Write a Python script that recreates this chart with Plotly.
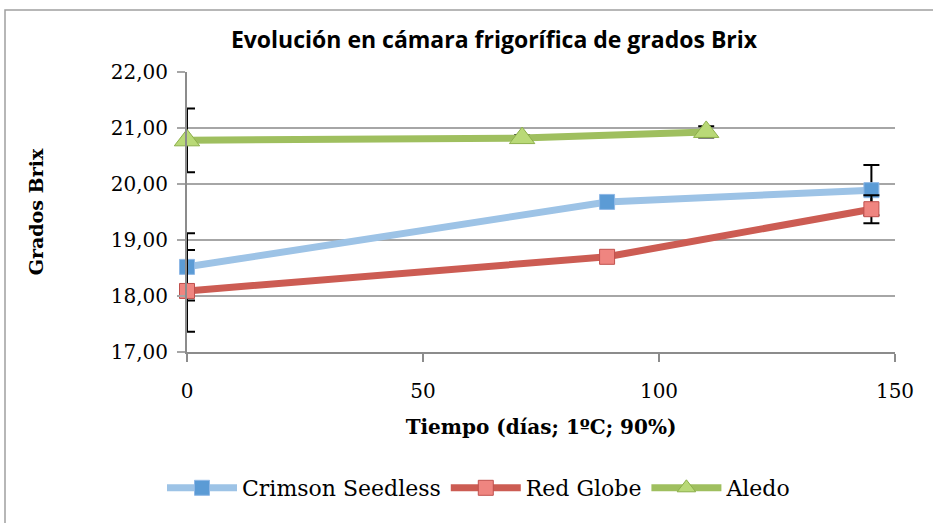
import plotly.graph_objects as go

crimson_x = [0, 89, 145]
crimson_y = [18.52, 19.68, 19.89]
crimson_err = [0.60, 0.0, 0.45]

red_x = [0, 89, 145]
red_y = [18.09, 18.70, 19.55]
red_err = [0.73, 0.0, 0.25]

aledo_x = [0, 71, 110]
aledo_y = [20.78, 20.82, 20.93]
aledo_err = [0.57, 0.05, 0.10]

title_text = "Evolución en cámara frigorífica de grados Brix"
x_title = "Tiempo (días; 1ºC; 90%)"
y_title = "Grados Brix"

serif = "DejaVu Serif"

def series(name, x, y, err, line_c, mk_c, mk_line, symbol, size):
    return go.Scatter(
        x=x, y=y, name=name, mode="lines+markers", cliponaxis=False,
        line=dict(color=line_c, width=7),
        marker=dict(symbol=symbol, size=size, color=mk_c,
                    line=dict(color=mk_line, width=1)),
        error_y=dict(type="data", array=err, visible=True,
                     color="black", thickness=2, width=8),
    )

fig = go.Figure()
fig.add_trace(series("Crimson Seedless", crimson_x, crimson_y, crimson_err,
                     "#9dc3e6", "#5b9bd5", "#8fb8e6", "square", 15))
fig.add_trace(series("Red Globe", red_x, red_y, red_err,
                     "#cc5c53", "#ef8580", "#c0504d", "square", 15))
fig.add_trace(series("Aledo", aledo_x, aledo_y, aledo_err,
                     "#9fbf5f", "#b9d977", "#8caf4a", "triangle-up", 22))

fig.update_layout(
    width=933, height=523,
    margin=dict(l=187, r=38, t=72, b=171),
    paper_bgcolor="white", plot_bgcolor="white",
    separators=", ",
    title=dict(text=title_text, x=494/933, xanchor="center", y=1-40/523,
               yanchor="middle",
               font=dict(family="Open Sans", size=23, color="black", weight="bold")),
    xaxis=dict(range=[0, 150], tickvals=[0, 50, 100, 150], ticktext=["0", "50", "100", "150"],
               showgrid=False, zeroline=False, showline=True, linecolor="#8c8c8c", linewidth=2,
               ticks="outside", ticklen=8, tickcolor="#8c8c8c", tickwidth=2,
               ticklabelstandoff=12,
               tickfont=dict(family=serif, size=20, color="black"),
               title=dict(text=x_title, standoff=18,
                          font=dict(family=serif, size=20, color="black", weight="bold"))),
    yaxis=dict(range=[17, 22], dtick=1, tickformat=".2f",
               showgrid=True, gridcolor="#a6a6a6", gridwidth=2, zeroline=False,
               showline=True, linecolor="#8c8c8c", linewidth=2,
               ticks="outside", ticklen=8, tickcolor="#a6a6a6", tickwidth=2,
               ticklabelstandoff=5,
               tickfont=dict(family=serif, size=20, color="black"),
               title=dict(text=y_title, standoff=62,
                          font=dict(family=serif, size=19, color="black", weight="bold"))),
    legend=dict(orientation="h", x=479/933, xref="container", xanchor="center",
                y=1-488/523, yref="container", yanchor="middle",
                font=dict(family=serif, size=22, color="black"),
                itemwidth=70, tracegroupgap=0),
    showlegend=True,
)

fig.add_shape(type="rect", xref="paper", yref="paper",
              x0=(5-187)/708, x1=(945-187)/708, y0=(352-540)/280, y1=(352-10)/280,
              line=dict(color="#a0a0a0", width=1.5), layer="below")

fig.write_html("out.html", config={"displayModeBar": False},
               post_script="document.body.style.margin='0';")
